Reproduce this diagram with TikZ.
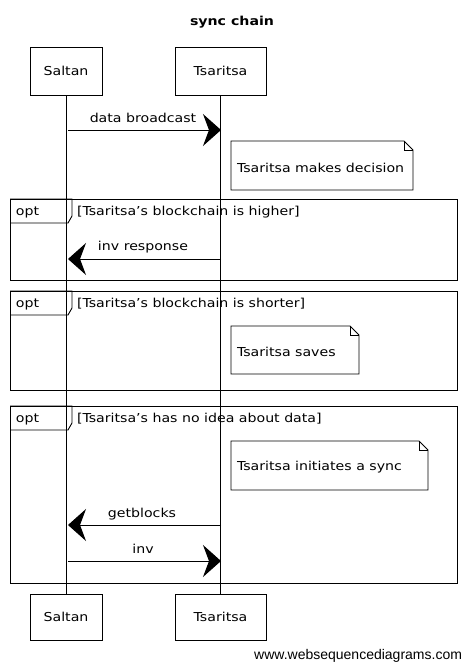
\documentclass[tikz,border=0pt]{standalone}
\usepackage{fontspec}
\setmainfont{DejaVu Sans}[FakeStretch=1.15]
\newfontfamily\footfont{Liberation Sans}
\usetikzlibrary{arrows.meta,calc}
\begin{document}
\begin{tikzpicture}[x=1pt,y=-1pt,
  every node/.style={inner sep=0pt,outer sep=0pt},
  txt/.style={font=\fontsize{12.3}{14}\selectfont},
  actor/.style={draw,line width=0.9pt,minimum height=48pt,font=\fontsize{12.3}{14}\selectfont},
  life/.style={line width=0.8pt},
  msg/.style={line width=1pt,-{Stealth[length=18pt,width=32pt,inset=6pt]}},
  frm/.style={draw,line width=0.9pt,anchor=north west,minimum width=447pt},
  notebox/.style={minimum height=49pt,anchor=north west,inner xsep=6pt,align=left,font=\fontsize{12.3}{14}\selectfont},
  outl/.style={line width=0.9pt}]
\useasboundingbox (0,0) rectangle (464,664);
\fill[white] (0,0) rectangle (464,664);
% title
\node[font=\bfseries\fontsize{12.3}{14}\selectfont] (title) at (232,22) {sync chain};
% actors
\node[actor,minimum width=72pt] (s1) at (66,71) {Saltan};
\node[actor,minimum width=91pt] (t1) at (220.5,71) {Tsaritsa};
\node[actor,minimum width=72pt,minimum height=46pt] (s2) at (66,617) {Saltan};
\node[actor,minimum width=91pt,minimum height=46pt] (t2) at (220.5,617) {Tsaritsa};
\draw[life] (s1.south) -- (s2.north);
\draw[life] (t1.south) -- (t2.north);
% frames
\node[frm,minimum height=81pt] (f1) at (10,199) {};
\node[frm,minimum height=99pt] (f2) at (10,291) {};
\node[frm,minimum height=177pt] (f3) at (10,406) {};
\foreach \f/\c in {f1/{[Tsaritsa's blockchain is higher]},f2/{[Tsaritsa's blockchain is shorter]},f3/{[Tsaritsa's has no idea about data]}}{
  \draw[outl] (\f.north west) -- ++(62,0) -- ++(0,17) -- ++(-4,7) -- ++(-58,0);
  \node[txt,anchor=west] (\f opt) at ($(\f.north west)+(6,13)$) {opt};
  \node[txt,anchor=west] (\f cond) at ($(\f.north west)+(67,13)$) {\c};
}
% message 1
\coordinate (m1a) at (68,130);
\coordinate (m1b) at (221,130);
\draw[msg] (m1a) -- (m1b);
\node[txt] (l1) at (143,118) {data broadcast};
% note 1
\node[notebox,text width=170pt] (n1) at (231,141) {\phantom{T}};
\node[notebox,text width=116pt,minimum height=48pt] (n2) at (231,326) {\phantom{T}};
\node[notebox,text width=185pt] (n3) at (231,441) {\phantom{T}};
\foreach \n in {n1,n2,n3}{
  \draw[outl,fill=white] (\n.north west) -- ($(\n.north east)+(-9,0)$) -- ($(\n.north east)+(0,9)$) -- (\n.south east) -- (\n.south west) -- cycle;
  \draw[outl] ($(\n.north east)+(-9,0)$) -- ($(\n.north east)+(-9,9)$) -- ($(\n.north east)+(0,9)$);
}
\node[txt,anchor=west] (n1t) at ($(n1.west)+(6,2)$) {Tsaritsa makes decision};
\node[txt,anchor=west] (n2t) at ($(n2.west)+(6,2)$) {Tsaritsa saves};
\node[txt,anchor=west] (n3t) at ($(n3.west)+(6,2)$) {Tsaritsa initiates a sync};
% message 2
\coordinate (m2a) at (221,259);
\coordinate (m2b) at (68,259);
\draw[msg] (m2a) -- (m2b);
\node[txt] (l2) at (143,247) {inv response};
% messages in frame 3
\coordinate (m3a) at (221,525);
\coordinate (m3b) at (68,525);
\draw[msg] (m3a) -- (m3b);
\node[txt] (l3) at (142,514) {getblocks};
\coordinate (m4a) at (68,561);
\coordinate (m4b) at (221,561);
\draw[msg] (m4a) -- (m4b);
\node[txt] (l4) at (143,549) {inv};
% footer
\node[font=\footfont\fontsize{14}{16}\selectfont,anchor=east] (foot) at (462,656) {www.websequencediagrams.com};
\end{tikzpicture}
\end{document}
